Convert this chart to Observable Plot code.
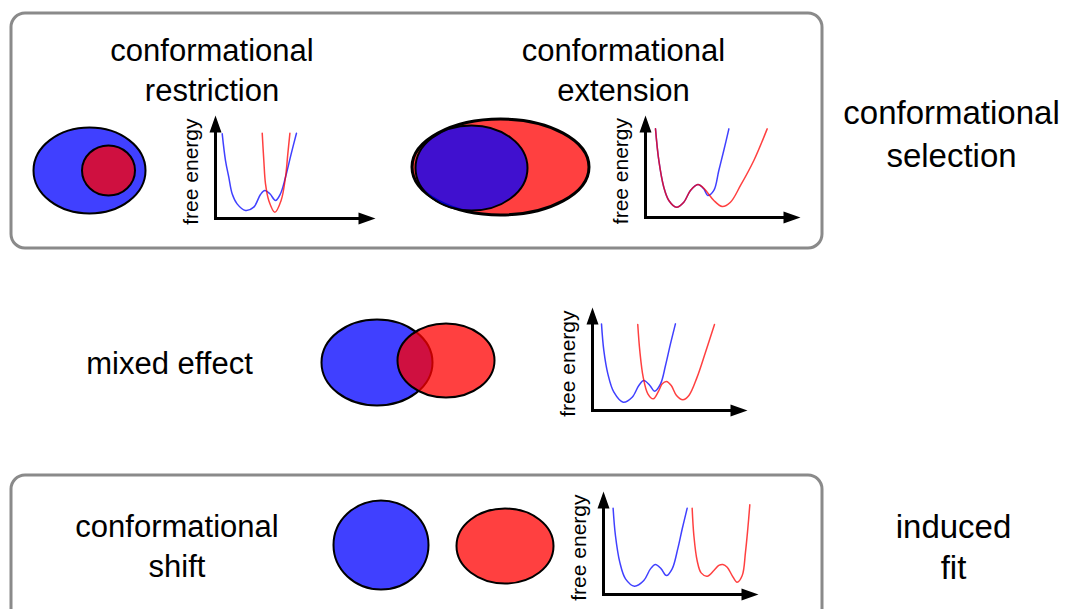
<!DOCTYPE html>
<html>
<head>
<meta charset="utf-8">
<script src="https://cdn.jsdelivr.net/npm/d3@7"></script>
<script src="https://cdn.jsdelivr.net/npm/@observablehq/plot@0.6"></script>
<style>
  body { margin: 0; background: #fff; }
  #fig { position: relative; width: 1070px; height: 609px; overflow: hidden; background: #fff; }
  #fig svg { position: absolute; overflow: visible; background: transparent; }
</style>
</head>
<body>
<div id="fig"></div>
<script>
// ---------------- content ----------------
const panelTitles = ["conformational\nrestriction", "conformational\nextension"];
const sideLabels  = ["conformational\nselection", "induced\nfit"];
const rowLabels   = ["mixed effect", "conformational\nshift"];
const axisLabel   = "free energy";

// free-energy profiles, [reaction coordinate (% of axis), free energy (% of axis)]
const restrictionBlue = [[4.2,82.2],[6.25,56.3],[8.3,40.1],[10.4,24.0],[13.5,14.2],[18.75,7.8],[23.9,11.0],[28.1,23.3],[30.8,27.2],[34.0,24.0],[37.5,17.5],[40.6,24.0],[43.75,40.1],[47.3,62.8],[50.6,82.8]];
const restrictionRed  = [[29.2,82.8],[30.2,56.3],[31.25,33.7],[33.3,17.5],[37.1,6.1],[41.0,17.5],[43.75,40.1],[45.2,62.8],[46.5,82.8]];

const extensionBlue = [[6.45,86.9],[8.6,55.9],[11.8,29.7],[15.05,16.7],[20.0,10.1],[24.7,15.0],[29.0,26.5],[33.8,32.4],[37.6,28.1],[40.2,21.6],[44.1,26.5],[47.3,46.1],[50.5,65.7],[53.8,86.9]];
const extensionRed  = [[6.45,86.9],[8.6,55.9],[11.8,29.7],[15.05,16.7],[20.0,10.1],[24.7,15.0],[29.0,26.5],[33.8,32.4],[37.0,29.5],[39.8,24.8],[44.1,16.7],[49.5,10.8],[54.8,15.0],[61.3,31.4],[69.9,55.9],[78.5,86.9]];

const mixedBlue = [[5.8,84.1],[7.3,58.3],[9.9,35.6],[13.8,17.8],[19.8,8.1],[25.6,12.9],[29.9,24.3],[33.1,29.1],[37.0,24.3],[40.0,18.8],[43.9,25.9],[47.1,43.7],[50.3,64.7],[53.5,84.1]];
const mixedRed  = [[29.2,83.5],[30.5,58.3],[32.7,32.4],[35.7,16.2],[39.2,11.3],[42.8,19.4],[45.0,25.9],[47.7,28.2],[50.8,24.3],[54.2,14.6],[58.3,10.4],[62.2,14.6],[67.5,32.4],[72.9,56.6],[78.7,83.5]];

const shiftBlue = [[6.2,83.8],[7.7,57.3],[10.5,31.4],[14.2,15.2],[20.0,8.1],[26.0,13.6],[30.3,24.9],[33.5,29.1],[37.2,24.9],[40.6,18.4],[44.3,24.9],[47.9,44.3],[50.8,63.8],[54.0,83.8]];
const shiftRed  = [[57.2,83.8],[58.3,57.3],[60.4,33.0],[63.0,21.0],[66.9,17.8],[71.2,23.3],[74.4,28.2],[77.0,29.1],[79.8,26.5],[83.0,18.4],[86.2,11.9],[89.5,18.4],[91.6,41.1],[93.1,63.8],[94.4,87.1]];

// ---------------- layout / style ----------------
const BLUE = "#0000ff", RED = "#ff0000", ALPHA = 0.75;
const FONT = "'Liberation Sans', Arial, Helvetica, sans-serif";
const W = 1070, H = 609;

const boxes = [
  {x1: 11, x2: 822, y1: 13, y2: 248},
  {x1: 11, x2: 822, y1: 475, y2: 640}
];

const textLayout = [
  {text: panelTitles[0], x: 211.5, y: 100, size: 31, lh: 1.26},
  {text: panelTitles[1], x: 623,   y: 100, size: 31, lh: 1.26},
  {text: sideLabels[0],  x: 951,   y: 166, size: 33, lh: 1.3},
  {text: rowLabels[0],   x: 169,   y: 373, size: 31, lh: 1.26},
  {text: rowLabels[1],   x: 176.5, y: 576, size: 31, lh: 1.26},
  {text: sideLabels[1],  x: 953,   y: 578, size: 33, lh: 1.24}
];

const ellipses = [
  {cx: 89,    cy: 170,   rx: 56,   ry: 43,   fill: BLUE, sw: 2},
  {cx: 108,   cy: 170,   rx: 26.5, ry: 25,   fill: RED,  sw: 2},
  {cx: 500,   cy: 166.5, rx: 88.5, ry: 48,   fill: RED,  sw: 3},
  {cx: 471,   cy: 167.5, rx: 56,   ry: 42.5, fill: BLUE, sw: 2},
  {cx: 376.5, cy: 362,   rx: 55.5, ry: 43,   fill: BLUE, sw: 2},
  {cx: 445.5, cy: 360,   rx: 48.5, ry: 37,   fill: RED,  sw: 2},
  {cx: 380.5, cy: 544.5, rx: 47.5, ry: 44.5, fill: BLUE, sw: 2},
  {cx: 504.5, cy: 545.5, rx: 48.5, ry: 37.5, fill: RED,  sw: 2}
];

// energy panels: origin of the axes (ox, oy) and axis lengths in px
const energyPanels = [
  {ox: 215, oy: 218, w: 160, h: 103, blue: restrictionBlue, red: restrictionRed},
  {ox: 645, oy: 217, w: 155, h: 102, blue: extensionBlue,   red: extensionRed},
  {ox: 592, oy: 410, w: 155, h: 103, blue: mixedBlue,       red: mixedRed},
  {ox: 603, oy: 594, w: 155, h: 103, blue: shiftBlue,       red: shiftRed}
];

// ---------------- symbols ----------------
function ellipseSymbol(ratio) {
  const k = 0.5522847498;
  return {
    draw(ctx, size) {
      const rx = Math.sqrt(size / Math.PI), ry = rx * ratio;
      ctx.moveTo(rx, 0);
      ctx.bezierCurveTo(rx, ry * k, rx * k, ry, 0, ry);
      ctx.bezierCurveTo(-rx * k, ry, -rx, ry * k, -rx, 0);
      ctx.bezierCurveTo(-rx, -ry * k, -rx * k, -ry, 0, -ry);
      ctx.bezierCurveTo(rx * k, -ry, rx, -ry * k, rx, 0);
      ctx.closePath();
    }
  };
}
const arrowUp = {draw(ctx) { ctx.moveTo(0, 0); ctx.lineTo(6, 17); ctx.lineTo(-6, 17); ctx.closePath(); }};
const arrowRight = {draw(ctx) { ctx.moveTo(0, 0); ctx.lineTo(-17, -6); ctx.lineTo(-17, 6); ctx.closePath(); }};

// ---------------- background figure ----------------
const fig = document.getElementById("fig");

const bg = Plot.plot({
  width: W, height: H,
  marginTop: 0, marginRight: 0, marginBottom: 0, marginLeft: 0,
  x: {domain: [0, W], range: [0, W], axis: null},
  y: {domain: [0, H], range: [0, H], axis: null},
  style: {fontFamily: FONT, background: "transparent"},
  marks: [
    Plot.rect(boxes, {x1: "x1", x2: "x2", y1: "y1", y2: "y2", rx: 14, fill: "none", stroke: "#8a8a8a", strokeWidth: 3}),
    ...ellipses.map(e => Plot.dot([e], {
      x: "cx", y: "cy", r: e.rx, symbol: ellipseSymbol(e.ry / e.rx),
      fill: e.fill, fillOpacity: ALPHA, stroke: "black", strokeWidth: e.sw
    })),
    ...textLayout.map(t => Plot.text([t], {
      x: "x", y: "y", text: "text", fontSize: t.size, lineHeight: t.lh,
      lineAnchor: "bottom", textAnchor: "middle", fill: "black", fontFamily: FONT
    }))
  ]
});
bg.style.left = "0px"; bg.style.top = "0px";
fig.appendChild(bg);

// ---------------- energy panels ----------------
const ML = 45, MR = 3, MT = 2, MB = 12;
for (const p of energyPanels) {
  const toObj = arr => arr.map(([t, e]) => ({t, e}));
  const chart = Plot.plot({
    width: ML + p.w + MR, height: MT + p.h + MB,
    marginLeft: ML, marginRight: MR, marginTop: MT, marginBottom: MB,
    x: {domain: [0, 100], axis: null},
    y: {domain: [0, 100], axis: null},
    style: {fontFamily: FONT, background: "transparent", overflow: "visible"},
    marks: [
      Plot.line(toObj(p.blue), {x: "t", y: "e", curve: "catmull-rom", stroke: BLUE, strokeOpacity: ALPHA, strokeWidth: 1.5}),
      Plot.line(toObj(p.red), {x: "t", y: "e", curve: "catmull-rom", stroke: RED, strokeOpacity: ALPHA, strokeWidth: 1.5}),
      Plot.link([0], {x1: 0, y1: 0, x2: 0, y2: 92, stroke: "black", strokeWidth: 3, strokeLinecap: "square"}),
      Plot.link([0], {x1: 0, y1: 0, x2: 92, y2: 0, stroke: "black", strokeWidth: 3, strokeLinecap: "square"}),
      Plot.dot([0], {x: 0, y: 100, r: 5, symbol: arrowUp, fill: "black", stroke: "none"}),
      Plot.dot([0], {x: 100, y: 0, r: 5, symbol: arrowRight, fill: "black", stroke: "none"}),
      Plot.text([axisLabel], {x: 0, y: 45.5, text: d => d, rotate: -90, dx: -18, fontSize: 21,
        lineAnchor: "bottom", textAnchor: "middle", fill: "black", fontFamily: FONT})
    ]
  });
  chart.style.left = (p.ox - ML) + "px";
  chart.style.top = (p.oy - p.h - MT) + "px";
  fig.appendChild(chart);
}
</script>
</body>
</html>
